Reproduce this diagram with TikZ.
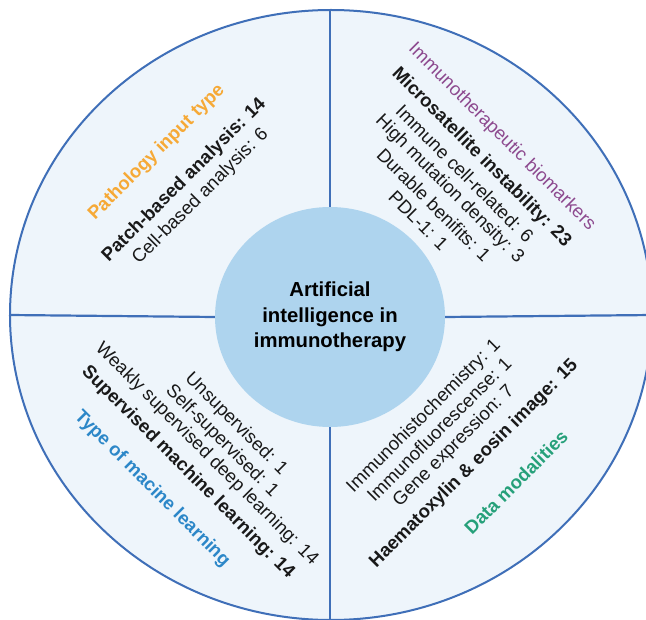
\documentclass[tikz,border=0pt]{standalone}
\usepackage{fontspec}
\setmainfont{Liberation Sans}
\usetikzlibrary{shapes.geometric}
\definecolor{ringblue}{HTML}{3F6FB8}
\definecolor{ringfill}{HTML}{EEF5FB}
\definecolor{hubfill}{HTML}{AED4EE}
\definecolor{pathorange}{HTML}{F6A936}
\definecolor{biopurple}{HTML}{8D4A8F}
\definecolor{mlblue}{HTML}{2C87C8}
\definecolor{datagreen}{HTML}{26A07A}

\begin{document}
\begin{tikzpicture}[x=1pt,y=1pt]
\tikzstyle{every node}+=[inner sep=0pt]
\tikzstyle{lbl}=[font=\fontsize{18.6}{22}\selectfont, text=black!90]
\tikzstyle{lblb}=[font=\fontsize{18.6}{22}\selectfont\bfseries, text=black!90]
\tikzstyle{divider}=[ringblue, line width=2.2pt]
\clip (0,0) rectangle (646,-620);
\fill [white] (0,0) rectangle (646,-620);
% outer ring and hub
\draw (331,-315) node (ring) [ellipse, draw=ringblue, line width=2pt, fill=ringfill, minimum width=642, minimum height=610] {};
\draw (330,-317) node (ai) [ellipse, fill=hubfill, minimum width=230, minimum height=220, align=center, font=\fontsize{20.3}{25.5}\selectfont\bfseries] {Artificial\\intelligence in\\immunotherapy};
\draw [divider] (ai.north) -- (ai.north |- ring.north);
\draw [divider] (ai.south) -- (ai.south |- ring.south);
\draw [divider] (ai.west) -- (ring.west);
\draw [divider] (ai.east) -- (ring.east);
% top left
\draw (156.7,-152.6) node (pit) [lblb, rotate=45, text=pathorange] {Pathology input type};
\draw (184.3,-180.2) node (patch) [lblb, rotate=45] {Patch-based analysis: 14};
\draw (200.6,-196.5) node (cell) [lbl, rotate=45] {Cell-based analysis: 6};
% top right
\draw (501.8,-137.1) node (ib) [lbl, rotate=-45, text=biopurple] {Immunotherapeutic biomarkers};
\draw (481.3,-157.6) node (msi) [lblb, rotate=-45] {Microsatellite instability: 23};
\draw (465.0,-173.9) node (imm) [lbl, rotate=-45] {Immune cell-related: 6};
\draw (449.5,-189.4) node (tmb) [lbl, rotate=-45] {High mutation density: 3};
\draw (434.0,-205.0) node (dur) [lbl, rotate=-45] {Durable benifits: 1};
\draw (418.4,-220.5) node (pdl) [lbl, rotate=-45] {PDL-1: 1};
% bottom left
\draw (236.0,-424.2) node (unsup) [lbl, rotate=-45] {Unsupervised: 1};
\draw (221.8,-441.2) node (self) [lbl, rotate=-45] {Self-supervised: 1};
\draw (206.7,-454.3) node (weak) [lbl, rotate=-45] {Weakly supervised deep learning: 14};
\draw (187.9,-472.3) node (sup) [lblb, rotate=-45] {Supervised machine learning: 14};
\draw (152.1,-488.9) node (tml) [lblb, rotate=-45, text=mlblue] {Type of macine learning};
% bottom right
\draw (424,-416) node (ihc) [lbl, rotate=45] {Immunohistochemistry: 1};
\draw (439,-429) node (if) [lbl, rotate=45] {Immunofluorescense: 1};
\draw (454,-446) node (gene) [lbl, rotate=45] {Gene expression: 7};
\draw (474,-464) node (he) [lblb, rotate=45] {Haematoxylin \& eosin image: 15};
\draw (516,-482) node (dm) [lblb, rotate=45, text=datagreen] {Data modalities};
\end{tikzpicture}
\end{document}
